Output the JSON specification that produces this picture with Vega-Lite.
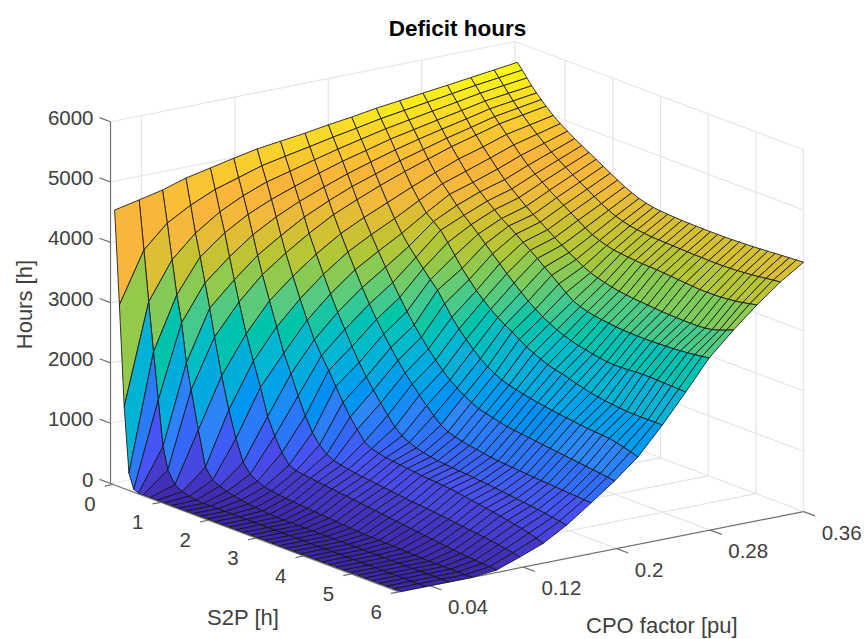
{"$schema":"https://vega.github.io/schema/vega-lite/v6.json","width":865,"height":639,"padding":0,"autosize":"none","background":"white","view":{"stroke":null},"title":{"text":"Deficit hours","font":"Liberation Sans","fontSize":22.5,"fontWeight":"bold","color":"#000000","anchor":"middle","dx":25,"offset":-40},
"datasets":{"surface":[
{"s":0,"c":0.36,"h":5670},{"s":0,"c":0.34,"h":5620},{"s":0,"c":0.32,"h":5570},{"s":0,"c":0.3,"h":5520},{"s":0,"c":0.279,"h":5470},{"s":0,"c":0.259,"h":5420},{"s":0,"c":0.239,"h":5373},{"s":0,"c":0.218,"h":5307},{"s":0,"c":0.198,"h":5255},{"s":0,"c":0.178,"h":5193},{"s":0,"c":0.157,"h":5141},{"s":0,"c":0.137,"h":5090},{"s":0,"c":0.117,"h":5012},{"s":0,"c":0.097,"h":4927},{"s":0,"c":0.076,"h":4840},{"s":0,"c":0.056,"h":4720},{"s":0,"c":0.036,"h":4632},{"s":0,"c":0.015,"h":4544},
{"s":0.1,"c":0.36,"h":5570},{"s":0.1,"c":0.34,"h":5520},{"s":0.1,"c":0.32,"h":5470},{"s":0.1,"c":0.3,"h":5410},{"s":0.1,"c":0.279,"h":5350},{"s":0.1,"c":0.259,"h":5290},{"s":0.1,"c":0.239,"h":5230},{"s":0.1,"c":0.218,"h":5150},{"s":0.1,"c":0.198,"h":5080},{"s":0.1,"c":0.178,"h":5000},{"s":0.1,"c":0.157,"h":4920},{"s":0.1,"c":0.137,"h":4840},{"s":0.1,"c":0.117,"h":4720},{"s":0.1,"c":0.097,"h":4600},{"s":0.1,"c":0.076,"h":4420},{"s":0.1,"c":0.056,"h":4200},{"s":0.1,"c":0.036,"h":3830},{"s":0.1,"c":0.015,"h":3000},
{"s":0.2,"c":0.36,"h":5470},{"s":0.2,"c":0.34,"h":5420},{"s":0.2,"c":0.32,"h":5370},{"s":0.2,"c":0.3,"h":5300},{"s":0.2,"c":0.279,"h":5230},{"s":0.2,"c":0.259,"h":5160},{"s":0.2,"c":0.239,"h":5090},{"s":0.2,"c":0.218,"h":5000},{"s":0.2,"c":0.198,"h":4910},{"s":0.2,"c":0.178,"h":4810},{"s":0.2,"c":0.157,"h":4700},{"s":0.2,"c":0.137,"h":4600},{"s":0.2,"c":0.117,"h":4450},{"s":0.2,"c":0.097,"h":4259},{"s":0.2,"c":0.076,"h":3985},{"s":0.2,"c":0.056,"h":3620},{"s":0.2,"c":0.036,"h":3000},{"s":0.2,"c":0.015,"h":1340},
{"s":0.3,"c":0.36,"h":5370},{"s":0.3,"c":0.34,"h":5320},{"s":0.3,"c":0.32,"h":5270},{"s":0.3,"c":0.3,"h":5190},{"s":0.3,"c":0.279,"h":5110},{"s":0.3,"c":0.259,"h":5030},{"s":0.3,"c":0.239,"h":4950},{"s":0.3,"c":0.218,"h":4840},{"s":0.3,"c":0.198,"h":4740},{"s":0.3,"c":0.178,"h":4620},{"s":0.3,"c":0.157,"h":4480},{"s":0.3,"c":0.137,"h":4340},{"s":0.3,"c":0.117,"h":4170},{"s":0.3,"c":0.097,"h":3940},{"s":0.3,"c":0.076,"h":3620},{"s":0.3,"c":0.056,"h":3070},{"s":0.3,"c":0.036,"h":2200},{"s":0.3,"c":0.015,"h":270},
{"s":0.4,"c":0.36,"h":5280},{"s":0.4,"c":0.34,"h":5225},{"s":0.4,"c":0.32,"h":5170},{"s":0.4,"c":0.3,"h":5080},{"s":0.4,"c":0.279,"h":4990},{"s":0.4,"c":0.259,"h":4900},{"s":0.4,"c":0.239,"h":4800},{"s":0.4,"c":0.218,"h":4680},{"s":0.4,"c":0.198,"h":4560},{"s":0.4,"c":0.178,"h":4420},{"s":0.4,"c":0.157,"h":4260},{"s":0.4,"c":0.137,"h":4080},{"s":0.4,"c":0.117,"h":3860},{"s":0.4,"c":0.097,"h":3570},{"s":0.4,"c":0.076,"h":3220},{"s":0.4,"c":0.056,"h":2634},{"s":0.4,"c":0.036,"h":1430},{"s":0.4,"c":0.015,"h":30},
{"s":0.5,"c":0.36,"h":5200},{"s":0.5,"c":0.34,"h":5135},{"s":0.5,"c":0.32,"h":5070},{"s":0.5,"c":0.3,"h":4970},{"s":0.5,"c":0.279,"h":4870},{"s":0.5,"c":0.259,"h":4760},{"s":0.5,"c":0.239,"h":4650},{"s":0.5,"c":0.218,"h":4510},{"s":0.5,"c":0.198,"h":4380},{"s":0.5,"c":0.178,"h":4220},{"s":0.5,"c":0.157,"h":4030},{"s":0.5,"c":0.137,"h":3800},{"s":0.5,"c":0.117,"h":3550},{"s":0.5,"c":0.097,"h":3220},{"s":0.5,"c":0.076,"h":2830},{"s":0.5,"c":0.056,"h":2000},{"s":0.5,"c":0.036,"h":690},{"s":0.5,"c":0.015,"h":0},
{"s":0.6,"c":0.36,"h":5120},{"s":0.6,"c":0.34,"h":5050},{"s":0.6,"c":0.32,"h":4980},{"s":0.6,"c":0.3,"h":4870},{"s":0.6,"c":0.279,"h":4760},{"s":0.6,"c":0.259,"h":4630},{"s":0.6,"c":0.239,"h":4500},{"s":0.6,"c":0.218,"h":4350},{"s":0.6,"c":0.198,"h":4190},{"s":0.6,"c":0.178,"h":4020},{"s":0.6,"c":0.157,"h":3790},{"s":0.6,"c":0.137,"h":3540},{"s":0.6,"c":0.117,"h":3260},{"s":0.6,"c":0.097,"h":2880},{"s":0.6,"c":0.076,"h":2380},{"s":0.6,"c":0.056,"h":1580},{"s":0.6,"c":0.036,"h":330},{"s":0.6,"c":0.015,"h":0},
{"s":0.75,"c":0.36,"h":5010},{"s":0.75,"c":0.34,"h":4930},{"s":0.75,"c":0.32,"h":4850},{"s":0.75,"c":0.3,"h":4720},{"s":0.75,"c":0.279,"h":4600},{"s":0.75,"c":0.259,"h":4450},{"s":0.75,"c":0.239,"h":4290},{"s":0.75,"c":0.218,"h":4110},{"s":0.75,"c":0.198,"h":3940},{"s":0.75,"c":0.178,"h":3750},{"s":0.75,"c":0.157,"h":3490},{"s":0.75,"c":0.137,"h":3200},{"s":0.75,"c":0.117,"h":2870},{"s":0.75,"c":0.097,"h":2400},{"s":0.75,"c":0.076,"h":1780},{"s":0.75,"c":0.056,"h":960},{"s":0.75,"c":0.036,"h":130},{"s":0.75,"c":0.015,"h":0},
{"s":0.9,"c":0.36,"h":4920},{"s":0.9,"c":0.34,"h":4820},{"s":0.9,"c":0.32,"h":4720},{"s":0.9,"c":0.3,"h":4580},{"s":0.9,"c":0.279,"h":4440},{"s":0.9,"c":0.259,"h":4310},{"s":0.9,"c":0.239,"h":4110},{"s":0.9,"c":0.218,"h":3890},{"s":0.9,"c":0.198,"h":3700},{"s":0.9,"c":0.178,"h":3490},{"s":0.9,"c":0.157,"h":3200},{"s":0.9,"c":0.137,"h":2870},{"s":0.9,"c":0.117,"h":2480},{"s":0.9,"c":0.097,"h":1990},{"s":0.9,"c":0.076,"h":1260},{"s":0.9,"c":0.056,"h":390},{"s":0.9,"c":0.036,"h":60},{"s":0.9,"c":0.015,"h":0},
{"s":1.05,"c":0.36,"h":4840},{"s":1.05,"c":0.34,"h":4715},{"s":1.05,"c":0.32,"h":4590},{"s":1.05,"c":0.3,"h":4440},{"s":1.05,"c":0.279,"h":4300},{"s":1.05,"c":0.259,"h":4180},{"s":1.05,"c":0.239,"h":3950},{"s":1.05,"c":0.218,"h":3690},{"s":1.05,"c":0.198,"h":3470},{"s":1.05,"c":0.178,"h":3240},{"s":1.05,"c":0.157,"h":2920},{"s":1.05,"c":0.137,"h":2560},{"s":1.05,"c":0.117,"h":2090},{"s":1.05,"c":0.097,"h":1600},{"s":1.05,"c":0.076,"h":830},{"s":1.05,"c":0.056,"h":220},{"s":1.05,"c":0.036,"h":30},{"s":1.05,"c":0.015,"h":0},
{"s":1.2,"c":0.36,"h":4760},{"s":1.2,"c":0.34,"h":4615},{"s":1.2,"c":0.32,"h":4470},{"s":1.2,"c":0.3,"h":4310},{"s":1.2,"c":0.279,"h":4190},{"s":1.2,"c":0.259,"h":4040},{"s":1.2,"c":0.239,"h":3850},{"s":1.2,"c":0.218,"h":3520},{"s":1.2,"c":0.198,"h":3250},{"s":1.2,"c":0.178,"h":2990},{"s":1.2,"c":0.157,"h":2660},{"s":1.2,"c":0.137,"h":2280},{"s":1.2,"c":0.117,"h":1790},{"s":1.2,"c":0.097,"h":1160},{"s":1.2,"c":0.076,"h":480},{"s":1.2,"c":0.056,"h":165},{"s":1.2,"c":0.036,"h":10},{"s":1.2,"c":0.015,"h":0},
{"s":1.35,"c":0.36,"h":4690},{"s":1.35,"c":0.34,"h":4530},{"s":1.35,"c":0.32,"h":4370},{"s":1.35,"c":0.3,"h":4200},{"s":1.35,"c":0.279,"h":4080},{"s":1.35,"c":0.259,"h":3920},{"s":1.35,"c":0.239,"h":3750},{"s":1.35,"c":0.218,"h":3380},{"s":1.35,"c":0.198,"h":3040},{"s":1.35,"c":0.178,"h":2760},{"s":1.35,"c":0.157,"h":2420},{"s":1.35,"c":0.137,"h":2060},{"s":1.35,"c":0.117,"h":1470},{"s":1.35,"c":0.097,"h":880},{"s":1.35,"c":0.076,"h":330},{"s":1.35,"c":0.056,"h":120},{"s":1.35,"c":0.036,"h":0},{"s":1.35,"c":0.015,"h":0},
{"s":1.5,"c":0.36,"h":4620},{"s":1.5,"c":0.34,"h":4450},{"s":1.5,"c":0.32,"h":4280},{"s":1.5,"c":0.3,"h":4100},{"s":1.5,"c":0.279,"h":3980},{"s":1.5,"c":0.259,"h":3810},{"s":1.5,"c":0.239,"h":3590},{"s":1.5,"c":0.218,"h":3240},{"s":1.5,"c":0.198,"h":2840},{"s":1.5,"c":0.178,"h":2550},{"s":1.5,"c":0.157,"h":2180},{"s":1.5,"c":0.137,"h":1860},{"s":1.5,"c":0.117,"h":1180},{"s":1.5,"c":0.097,"h":650},{"s":1.5,"c":0.076,"h":255},{"s":1.5,"c":0.056,"h":90},{"s":1.5,"c":0.036,"h":0},{"s":1.5,"c":0.015,"h":0},
{"s":1.65,"c":0.36,"h":4550},{"s":1.65,"c":0.34,"h":4370},{"s":1.65,"c":0.32,"h":4190},{"s":1.65,"c":0.3,"h":4000},{"s":1.65,"c":0.279,"h":3880},{"s":1.65,"c":0.259,"h":3700},{"s":1.65,"c":0.239,"h":3420},{"s":1.65,"c":0.218,"h":3100},{"s":1.65,"c":0.198,"h":2650},{"s":1.65,"c":0.178,"h":2350},{"s":1.65,"c":0.157,"h":1960},{"s":1.65,"c":0.137,"h":1640},{"s":1.65,"c":0.117,"h":950},{"s":1.65,"c":0.097,"h":490},{"s":1.65,"c":0.076,"h":210},{"s":1.65,"c":0.056,"h":65},{"s":1.65,"c":0.036,"h":0},{"s":1.65,"c":0.015,"h":0},
{"s":1.8,"c":0.36,"h":4480},{"s":1.8,"c":0.34,"h":4295},{"s":1.8,"c":0.32,"h":4110},{"s":1.8,"c":0.3,"h":3910},{"s":1.8,"c":0.279,"h":3800},{"s":1.8,"c":0.259,"h":3580},{"s":1.8,"c":0.239,"h":3250},{"s":1.8,"c":0.218,"h":2970},{"s":1.8,"c":0.198,"h":2470},{"s":1.8,"c":0.178,"h":2170},{"s":1.8,"c":0.157,"h":1765},{"s":1.8,"c":0.137,"h":1420},{"s":1.8,"c":0.117,"h":790},{"s":1.8,"c":0.097,"h":440},{"s":1.8,"c":0.076,"h":185},{"s":1.8,"c":0.056,"h":45},{"s":1.8,"c":0.036,"h":0},{"s":1.8,"c":0.015,"h":0},
{"s":1.95,"c":0.36,"h":4410},{"s":1.95,"c":0.34,"h":4220},{"s":1.95,"c":0.32,"h":4030},{"s":1.95,"c":0.3,"h":3830},{"s":1.95,"c":0.279,"h":3710},{"s":1.95,"c":0.259,"h":3460},{"s":1.95,"c":0.239,"h":3110},{"s":1.95,"c":0.218,"h":2790},{"s":1.95,"c":0.198,"h":2310},{"s":1.95,"c":0.178,"h":2000},{"s":1.95,"c":0.157,"h":1590},{"s":1.95,"c":0.137,"h":1220},{"s":1.95,"c":0.117,"h":680},{"s":1.95,"c":0.097,"h":420},{"s":1.95,"c":0.076,"h":165},{"s":1.95,"c":0.056,"h":30},{"s":1.95,"c":0.036,"h":0},{"s":1.95,"c":0.015,"h":0},
{"s":2.1,"c":0.36,"h":4340},{"s":2.1,"c":0.34,"h":4145},{"s":2.1,"c":0.32,"h":3950},{"s":2.1,"c":0.3,"h":3745},{"s":2.1,"c":0.279,"h":3620},{"s":2.1,"c":0.259,"h":3340},{"s":2.1,"c":0.239,"h":2970},{"s":2.1,"c":0.218,"h":2610},{"s":2.1,"c":0.198,"h":2160},{"s":2.1,"c":0.178,"h":1840},{"s":2.1,"c":0.157,"h":1420},{"s":2.1,"c":0.137,"h":1060},{"s":2.1,"c":0.117,"h":620},{"s":2.1,"c":0.097,"h":405},{"s":2.1,"c":0.076,"h":150},{"s":2.1,"c":0.056,"h":20},{"s":2.1,"c":0.036,"h":0},{"s":2.1,"c":0.015,"h":0},
{"s":2.25,"c":0.36,"h":4275},{"s":2.25,"c":0.34,"h":4070},{"s":2.25,"c":0.32,"h":3870},{"s":2.25,"c":0.3,"h":3660},{"s":2.25,"c":0.279,"h":3530},{"s":2.25,"c":0.259,"h":3220},{"s":2.25,"c":0.239,"h":2860},{"s":2.25,"c":0.218,"h":2460},{"s":2.25,"c":0.198,"h":2020},{"s":2.25,"c":0.178,"h":1700},{"s":2.25,"c":0.157,"h":1260},{"s":2.25,"c":0.137,"h":900},{"s":2.25,"c":0.117,"h":590},{"s":2.25,"c":0.097,"h":390},{"s":2.25,"c":0.076,"h":140},{"s":2.25,"c":0.056,"h":10},{"s":2.25,"c":0.036,"h":0},{"s":2.25,"c":0.015,"h":0},
{"s":2.4,"c":0.36,"h":4220},{"s":2.4,"c":0.34,"h":4005},{"s":2.4,"c":0.32,"h":3790},{"s":2.4,"c":0.3,"h":3580},{"s":2.4,"c":0.279,"h":3440},{"s":2.4,"c":0.259,"h":3110},{"s":2.4,"c":0.239,"h":2750},{"s":2.4,"c":0.218,"h":2330},{"s":2.4,"c":0.198,"h":1890},{"s":2.4,"c":0.178,"h":1560},{"s":2.4,"c":0.157,"h":1110},{"s":2.4,"c":0.137,"h":830},{"s":2.4,"c":0.117,"h":565},{"s":2.4,"c":0.097,"h":375},{"s":2.4,"c":0.076,"h":130},{"s":2.4,"c":0.056,"h":0},{"s":2.4,"c":0.036,"h":0},{"s":2.4,"c":0.015,"h":0},
{"s":2.55,"c":0.36,"h":4170},{"s":2.55,"c":0.34,"h":3950},{"s":2.55,"c":0.32,"h":3720},{"s":2.55,"c":0.3,"h":3500},{"s":2.55,"c":0.279,"h":3340},{"s":2.55,"c":0.259,"h":3000},{"s":2.55,"c":0.239,"h":2660},{"s":2.55,"c":0.218,"h":2210},{"s":2.55,"c":0.198,"h":1780},{"s":2.55,"c":0.178,"h":1430},{"s":2.55,"c":0.157,"h":1010},{"s":2.55,"c":0.137,"h":795},{"s":2.55,"c":0.117,"h":545},{"s":2.55,"c":0.097,"h":360},{"s":2.55,"c":0.076,"h":120},{"s":2.55,"c":0.056,"h":0},{"s":2.55,"c":0.036,"h":0},{"s":2.55,"c":0.015,"h":0},
{"s":2.7,"c":0.36,"h":4135},{"s":2.7,"c":0.34,"h":3910},{"s":2.7,"c":0.32,"h":3670},{"s":2.7,"c":0.3,"h":3430},{"s":2.7,"c":0.279,"h":3250},{"s":2.7,"c":0.259,"h":2900},{"s":2.7,"c":0.239,"h":2580},{"s":2.7,"c":0.218,"h":2100},{"s":2.7,"c":0.198,"h":1690},{"s":2.7,"c":0.178,"h":1310},{"s":2.7,"c":0.157,"h":945},{"s":2.7,"c":0.137,"h":770},{"s":2.7,"c":0.117,"h":530},{"s":2.7,"c":0.097,"h":345},{"s":2.7,"c":0.076,"h":110},{"s":2.7,"c":0.056,"h":0},{"s":2.7,"c":0.036,"h":0},{"s":2.7,"c":0.015,"h":0},
{"s":2.85,"c":0.36,"h":4110},{"s":2.85,"c":0.34,"h":3880},{"s":2.85,"c":0.32,"h":3630},{"s":2.85,"c":0.3,"h":3360},{"s":2.85,"c":0.279,"h":3150},{"s":2.85,"c":0.259,"h":2810},{"s":2.85,"c":0.239,"h":2510},{"s":2.85,"c":0.218,"h":2010},{"s":2.85,"c":0.198,"h":1610},{"s":2.85,"c":0.178,"h":1200},{"s":2.85,"c":0.157,"h":900},{"s":2.85,"c":0.137,"h":755},{"s":2.85,"c":0.117,"h":515},{"s":2.85,"c":0.097,"h":330},{"s":2.85,"c":0.076,"h":100},{"s":2.85,"c":0.056,"h":0},{"s":2.85,"c":0.036,"h":0},{"s":2.85,"c":0.015,"h":0},
{"s":3,"c":0.36,"h":4095},{"s":3,"c":0.34,"h":3860},{"s":3,"c":0.32,"h":3600},{"s":3,"c":0.3,"h":3300},{"s":3,"c":0.279,"h":3050},{"s":3,"c":0.259,"h":2730},{"s":3,"c":0.239,"h":2430},{"s":3,"c":0.218,"h":1940},{"s":3,"c":0.198,"h":1540},{"s":3,"c":0.178,"h":1130},{"s":3,"c":0.157,"h":865},{"s":3,"c":0.137,"h":740},{"s":3,"c":0.117,"h":500},{"s":3,"c":0.097,"h":315},{"s":3,"c":0.076,"h":90},{"s":3,"c":0.056,"h":0},{"s":3,"c":0.036,"h":0},{"s":3,"c":0.015,"h":0},
{"s":3.15,"c":0.36,"h":4085},{"s":3.15,"c":0.34,"h":3845},{"s":3.15,"c":0.32,"h":3585},{"s":3.15,"c":0.3,"h":3260},{"s":3.15,"c":0.279,"h":2960},{"s":3.15,"c":0.259,"h":2660},{"s":3.15,"c":0.239,"h":2350},{"s":3.15,"c":0.218,"h":1880},{"s":3.15,"c":0.198,"h":1480},{"s":3.15,"c":0.178,"h":1090},{"s":3.15,"c":0.157,"h":840},{"s":3.15,"c":0.137,"h":725},{"s":3.15,"c":0.117,"h":485},{"s":3.15,"c":0.097,"h":300},{"s":3.15,"c":0.076,"h":80},{"s":3.15,"c":0.056,"h":0},{"s":3.15,"c":0.036,"h":0},{"s":3.15,"c":0.015,"h":0},
{"s":3.3,"c":0.36,"h":4078},{"s":3.3,"c":0.34,"h":3830},{"s":3.3,"c":0.32,"h":3570},{"s":3.3,"c":0.3,"h":3225},{"s":3.3,"c":0.279,"h":2910},{"s":3.3,"c":0.259,"h":2600},{"s":3.3,"c":0.239,"h":2290},{"s":3.3,"c":0.218,"h":1840},{"s":3.3,"c":0.198,"h":1450},{"s":3.3,"c":0.178,"h":1060},{"s":3.3,"c":0.157,"h":820},{"s":3.3,"c":0.137,"h":710},{"s":3.3,"c":0.117,"h":470},{"s":3.3,"c":0.097,"h":285},{"s":3.3,"c":0.076,"h":70},{"s":3.3,"c":0.056,"h":0},{"s":3.3,"c":0.036,"h":0},{"s":3.3,"c":0.015,"h":0},
{"s":3.45,"c":0.36,"h":4072},{"s":3.45,"c":0.34,"h":3825},{"s":3.45,"c":0.32,"h":3560},{"s":3.45,"c":0.3,"h":3195},{"s":3.45,"c":0.279,"h":2870},{"s":3.45,"c":0.259,"h":2550},{"s":3.45,"c":0.239,"h":2235},{"s":3.45,"c":0.218,"h":1810},{"s":3.45,"c":0.198,"h":1420},{"s":3.45,"c":0.178,"h":1035},{"s":3.45,"c":0.157,"h":805},{"s":3.45,"c":0.137,"h":695},{"s":3.45,"c":0.117,"h":455},{"s":3.45,"c":0.097,"h":270},{"s":3.45,"c":0.076,"h":60},{"s":3.45,"c":0.056,"h":0},{"s":3.45,"c":0.036,"h":0},{"s":3.45,"c":0.015,"h":0},
{"s":3.6,"c":0.36,"h":4068},{"s":3.6,"c":0.34,"h":3820},{"s":3.6,"c":0.32,"h":3550},{"s":3.6,"c":0.3,"h":3170},{"s":3.6,"c":0.279,"h":2845},{"s":3.6,"c":0.259,"h":2510},{"s":3.6,"c":0.239,"h":2190},{"s":3.6,"c":0.218,"h":1780},{"s":3.6,"c":0.198,"h":1390},{"s":3.6,"c":0.178,"h":1015},{"s":3.6,"c":0.157,"h":795},{"s":3.6,"c":0.137,"h":685},{"s":3.6,"c":0.117,"h":440},{"s":3.6,"c":0.097,"h":255},{"s":3.6,"c":0.076,"h":50},{"s":3.6,"c":0.056,"h":0},{"s":3.6,"c":0.036,"h":0},{"s":3.6,"c":0.015,"h":0},
{"s":3.75,"c":0.36,"h":4065},{"s":3.75,"c":0.34,"h":3815},{"s":3.75,"c":0.32,"h":3545},{"s":3.75,"c":0.3,"h":3155},{"s":3.75,"c":0.279,"h":2825},{"s":3.75,"c":0.259,"h":2470},{"s":3.75,"c":0.239,"h":2150},{"s":3.75,"c":0.218,"h":1755},{"s":3.75,"c":0.198,"h":1360},{"s":3.75,"c":0.178,"h":995},{"s":3.75,"c":0.157,"h":785},{"s":3.75,"c":0.137,"h":675},{"s":3.75,"c":0.117,"h":425},{"s":3.75,"c":0.097,"h":240},{"s":3.75,"c":0.076,"h":45},{"s":3.75,"c":0.056,"h":0},{"s":3.75,"c":0.036,"h":0},{"s":3.75,"c":0.015,"h":0},
{"s":3.9,"c":0.36,"h":4063},{"s":3.9,"c":0.34,"h":3810},{"s":3.9,"c":0.32,"h":3540},{"s":3.9,"c":0.3,"h":3140},{"s":3.9,"c":0.279,"h":2810},{"s":3.9,"c":0.259,"h":2450},{"s":3.9,"c":0.239,"h":2125},{"s":3.9,"c":0.218,"h":1730},{"s":3.9,"c":0.198,"h":1345},{"s":3.9,"c":0.178,"h":975},{"s":3.9,"c":0.157,"h":775},{"s":3.9,"c":0.137,"h":665},{"s":3.9,"c":0.117,"h":415},{"s":3.9,"c":0.097,"h":225},{"s":3.9,"c":0.076,"h":40},{"s":3.9,"c":0.056,"h":0},{"s":3.9,"c":0.036,"h":0},{"s":3.9,"c":0.015,"h":0},
{"s":4.05,"c":0.36,"h":4063},{"s":4.05,"c":0.34,"h":3805},{"s":4.05,"c":0.32,"h":3530},{"s":4.05,"c":0.3,"h":3130},{"s":4.05,"c":0.279,"h":2795},{"s":4.05,"c":0.259,"h":2420},{"s":4.05,"c":0.239,"h":2090},{"s":4.05,"c":0.218,"h":1710},{"s":4.05,"c":0.198,"h":1330},{"s":4.05,"c":0.178,"h":960},{"s":4.05,"c":0.157,"h":765},{"s":4.05,"c":0.137,"h":655},{"s":4.05,"c":0.117,"h":405},{"s":4.05,"c":0.097,"h":210},{"s":4.05,"c":0.076,"h":35},{"s":4.05,"c":0.056,"h":0},{"s":4.05,"c":0.036,"h":0},{"s":4.05,"c":0.015,"h":0},
{"s":4.2,"c":0.36,"h":4063},{"s":4.2,"c":0.34,"h":3800},{"s":4.2,"c":0.32,"h":3520},{"s":4.2,"c":0.3,"h":3120},{"s":4.2,"c":0.279,"h":2785},{"s":4.2,"c":0.259,"h":2400},{"s":4.2,"c":0.239,"h":2050},{"s":4.2,"c":0.218,"h":1690},{"s":4.2,"c":0.198,"h":1315},{"s":4.2,"c":0.178,"h":950},{"s":4.2,"c":0.157,"h":750},{"s":4.2,"c":0.137,"h":635},{"s":4.2,"c":0.117,"h":390},{"s":4.2,"c":0.097,"h":195},{"s":4.2,"c":0.076,"h":30},{"s":4.2,"c":0.056,"h":0},{"s":4.2,"c":0.036,"h":0},{"s":4.2,"c":0.015,"h":0},
{"s":4.35,"c":0.36,"h":4063},{"s":4.35,"c":0.34,"h":3800},{"s":4.35,"c":0.32,"h":3510},{"s":4.35,"c":0.3,"h":3110},{"s":4.35,"c":0.279,"h":2780},{"s":4.35,"c":0.259,"h":2380},{"s":4.35,"c":0.239,"h":2020},{"s":4.35,"c":0.218,"h":1670},{"s":4.35,"c":0.198,"h":1300},{"s":4.35,"c":0.178,"h":940},{"s":4.35,"c":0.157,"h":740},{"s":4.35,"c":0.137,"h":615},{"s":4.35,"c":0.117,"h":375},{"s":4.35,"c":0.097,"h":180},{"s":4.35,"c":0.076,"h":25},{"s":4.35,"c":0.056,"h":0},{"s":4.35,"c":0.036,"h":0},{"s":4.35,"c":0.015,"h":0},
{"s":4.5,"c":0.36,"h":4065},{"s":4.5,"c":0.34,"h":3795},{"s":4.5,"c":0.32,"h":3500},{"s":4.5,"c":0.3,"h":3100},{"s":4.5,"c":0.279,"h":2775},{"s":4.5,"c":0.259,"h":2375},{"s":4.5,"c":0.239,"h":1985},{"s":4.5,"c":0.218,"h":1655},{"s":4.5,"c":0.198,"h":1285},{"s":4.5,"c":0.178,"h":930},{"s":4.5,"c":0.157,"h":725},{"s":4.5,"c":0.137,"h":595},{"s":4.5,"c":0.117,"h":360},{"s":4.5,"c":0.097,"h":165},{"s":4.5,"c":0.076,"h":20},{"s":4.5,"c":0.056,"h":0},{"s":4.5,"c":0.036,"h":0},{"s":4.5,"c":0.015,"h":0},
{"s":4.65,"c":0.36,"h":4070},{"s":4.65,"c":0.34,"h":3795},{"s":4.65,"c":0.32,"h":3490},{"s":4.65,"c":0.3,"h":3095},{"s":4.65,"c":0.279,"h":2775},{"s":4.65,"c":0.259,"h":2375},{"s":4.65,"c":0.239,"h":1965},{"s":4.65,"c":0.218,"h":1640},{"s":4.65,"c":0.198,"h":1270},{"s":4.65,"c":0.178,"h":920},{"s":4.65,"c":0.157,"h":710},{"s":4.65,"c":0.137,"h":575},{"s":4.65,"c":0.117,"h":345},{"s":4.65,"c":0.097,"h":150},{"s":4.65,"c":0.076,"h":15},{"s":4.65,"c":0.056,"h":0},{"s":4.65,"c":0.036,"h":0},{"s":4.65,"c":0.015,"h":0},
{"s":4.8,"c":0.36,"h":4075},{"s":4.8,"c":0.34,"h":3795},{"s":4.8,"c":0.32,"h":3480},{"s":4.8,"c":0.3,"h":3090},{"s":4.8,"c":0.279,"h":2775},{"s":4.8,"c":0.259,"h":2380},{"s":4.8,"c":0.239,"h":1945},{"s":4.8,"c":0.218,"h":1625},{"s":4.8,"c":0.198,"h":1255},{"s":4.8,"c":0.178,"h":910},{"s":4.8,"c":0.157,"h":695},{"s":4.8,"c":0.137,"h":555},{"s":4.8,"c":0.117,"h":330},{"s":4.8,"c":0.097,"h":135},{"s":4.8,"c":0.076,"h":10},{"s":4.8,"c":0.056,"h":0},{"s":4.8,"c":0.036,"h":0},{"s":4.8,"c":0.015,"h":0},
{"s":4.95,"c":0.36,"h":4080},{"s":4.95,"c":0.34,"h":3800},{"s":4.95,"c":0.32,"h":3480},{"s":4.95,"c":0.3,"h":3085},{"s":4.95,"c":0.279,"h":2780},{"s":4.95,"c":0.259,"h":2390},{"s":4.95,"c":0.239,"h":1930},{"s":4.95,"c":0.218,"h":1610},{"s":4.95,"c":0.198,"h":1240},{"s":4.95,"c":0.178,"h":900},{"s":4.95,"c":0.157,"h":680},{"s":4.95,"c":0.137,"h":535},{"s":4.95,"c":0.117,"h":315},{"s":4.95,"c":0.097,"h":120},{"s":4.95,"c":0.076,"h":5},{"s":4.95,"c":0.056,"h":0},{"s":4.95,"c":0.036,"h":0},{"s":4.95,"c":0.015,"h":0},
{"s":5.1,"c":0.36,"h":4088},{"s":5.1,"c":0.34,"h":3805},{"s":5.1,"c":0.32,"h":3480},{"s":5.1,"c":0.3,"h":3085},{"s":5.1,"c":0.279,"h":2785},{"s":5.1,"c":0.259,"h":2395},{"s":5.1,"c":0.239,"h":1915},{"s":5.1,"c":0.218,"h":1600},{"s":5.1,"c":0.198,"h":1225},{"s":5.1,"c":0.178,"h":895},{"s":5.1,"c":0.157,"h":665},{"s":5.1,"c":0.137,"h":515},{"s":5.1,"c":0.117,"h":300},{"s":5.1,"c":0.097,"h":105},{"s":5.1,"c":0.076,"h":0},{"s":5.1,"c":0.056,"h":0},{"s":5.1,"c":0.036,"h":0},{"s":5.1,"c":0.015,"h":0},
{"s":5.25,"c":0.36,"h":4096},{"s":5.25,"c":0.34,"h":3815},{"s":5.25,"c":0.32,"h":3485},{"s":5.25,"c":0.3,"h":3085},{"s":5.25,"c":0.279,"h":2790},{"s":5.25,"c":0.259,"h":2395},{"s":5.25,"c":0.239,"h":1905},{"s":5.25,"c":0.218,"h":1590},{"s":5.25,"c":0.198,"h":1210},{"s":5.25,"c":0.178,"h":885},{"s":5.25,"c":0.157,"h":650},{"s":5.25,"c":0.137,"h":490},{"s":5.25,"c":0.117,"h":285},{"s":5.25,"c":0.097,"h":90},{"s":5.25,"c":0.076,"h":0},{"s":5.25,"c":0.056,"h":0},{"s":5.25,"c":0.036,"h":0},{"s":5.25,"c":0.015,"h":0},
{"s":5.4,"c":0.36,"h":4105},{"s":5.4,"c":0.34,"h":3825},{"s":5.4,"c":0.32,"h":3495},{"s":5.4,"c":0.3,"h":3095},{"s":5.4,"c":0.279,"h":2800},{"s":5.4,"c":0.259,"h":2390},{"s":5.4,"c":0.239,"h":1900},{"s":5.4,"c":0.218,"h":1580},{"s":5.4,"c":0.198,"h":1195},{"s":5.4,"c":0.178,"h":875},{"s":5.4,"c":0.157,"h":635},{"s":5.4,"c":0.137,"h":465},{"s":5.4,"c":0.117,"h":270},{"s":5.4,"c":0.097,"h":80},{"s":5.4,"c":0.076,"h":0},{"s":5.4,"c":0.056,"h":0},{"s":5.4,"c":0.036,"h":0},{"s":5.4,"c":0.015,"h":0},
{"s":5.55,"c":0.36,"h":4112},{"s":5.55,"c":0.34,"h":3840},{"s":5.55,"c":0.32,"h":3510},{"s":5.55,"c":0.3,"h":3115},{"s":5.55,"c":0.279,"h":2810},{"s":5.55,"c":0.259,"h":2385},{"s":5.55,"c":0.239,"h":1900},{"s":5.55,"c":0.218,"h":1555},{"s":5.55,"c":0.198,"h":1180},{"s":5.55,"c":0.178,"h":865},{"s":5.55,"c":0.157,"h":615},{"s":5.55,"c":0.137,"h":440},{"s":5.55,"c":0.117,"h":250},{"s":5.55,"c":0.097,"h":70},{"s":5.55,"c":0.076,"h":0},{"s":5.55,"c":0.056,"h":0},{"s":5.55,"c":0.036,"h":0},{"s":5.55,"c":0.015,"h":0},
{"s":5.7,"c":0.36,"h":4120},{"s":5.7,"c":0.34,"h":3855},{"s":5.7,"c":0.32,"h":3530},{"s":5.7,"c":0.3,"h":3150},{"s":5.7,"c":0.279,"h":2825},{"s":5.7,"c":0.259,"h":2380},{"s":5.7,"c":0.239,"h":1900},{"s":5.7,"c":0.218,"h":1525},{"s":5.7,"c":0.198,"h":1165},{"s":5.7,"c":0.178,"h":860},{"s":5.7,"c":0.157,"h":595},{"s":5.7,"c":0.137,"h":410},{"s":5.7,"c":0.117,"h":230},{"s":5.7,"c":0.097,"h":60},{"s":5.7,"c":0.076,"h":0},{"s":5.7,"c":0.056,"h":0},{"s":5.7,"c":0.036,"h":0},{"s":5.7,"c":0.015,"h":0},
{"s":5.85,"c":0.36,"h":4128},{"s":5.85,"c":0.34,"h":3870},{"s":5.85,"c":0.32,"h":3555},{"s":5.85,"c":0.3,"h":3195},{"s":5.85,"c":0.279,"h":2840},{"s":5.85,"c":0.259,"h":2375},{"s":5.85,"c":0.239,"h":1900},{"s":5.85,"c":0.218,"h":1490},{"s":5.85,"c":0.198,"h":1150},{"s":5.85,"c":0.178,"h":850},{"s":5.85,"c":0.157,"h":575},{"s":5.85,"c":0.137,"h":370},{"s":5.85,"c":0.117,"h":205},{"s":5.85,"c":0.097,"h":50},{"s":5.85,"c":0.076,"h":0},{"s":5.85,"c":0.056,"h":0},{"s":5.85,"c":0.036,"h":0},{"s":5.85,"c":0.015,"h":0},
{"s":6,"c":0.36,"h":4135},{"s":6,"c":0.34,"h":3884},{"s":6,"c":0.32,"h":3580},{"s":6,"c":0.3,"h":3244},{"s":6,"c":0.279,"h":2857},{"s":6,"c":0.259,"h":2370},{"s":6,"c":0.239,"h":1900},{"s":6,"c":0.218,"h":1450},{"s":6,"c":0.198,"h":1130},{"s":6,"c":0.178,"h":845},{"s":6,"c":0.157,"h":555},{"s":6,"c":0.137,"h":330},{"s":6,"c":0.117,"h":180},{"s":6,"c":0.097,"h":40},{"s":6,"c":0.076,"h":0},{"s":6,"c":0.056,"h":0},{"s":6,"c":0.036,"h":0},{"s":6,"c":0.015,"h":0}
],
"grid":[
{"g":"z0","s":-0.05,"c":0.0135,"h":0},{"g":"z0","s":-0.05,"c":0.36,"h":0},{"g":"z0","s":6,"c":0.36,"h":0},
{"g":"z1","s":-0.05,"c":0.0135,"h":1000},{"g":"z1","s":-0.05,"c":0.36,"h":1000},{"g":"z1","s":6,"c":0.36,"h":1000},
{"g":"z2","s":-0.05,"c":0.0135,"h":2000},{"g":"z2","s":-0.05,"c":0.36,"h":2000},{"g":"z2","s":6,"c":0.36,"h":2000},
{"g":"z3","s":-0.05,"c":0.0135,"h":3000},{"g":"z3","s":-0.05,"c":0.36,"h":3000},{"g":"z3","s":6,"c":0.36,"h":3000},
{"g":"z4","s":-0.05,"c":0.0135,"h":4000},{"g":"z4","s":-0.05,"c":0.36,"h":4000},{"g":"z4","s":6,"c":0.36,"h":4000},
{"g":"z5","s":-0.05,"c":0.0135,"h":5000},{"g":"z5","s":-0.05,"c":0.36,"h":5000},{"g":"z5","s":6,"c":0.36,"h":5000},
{"g":"z6","s":-0.05,"c":0.0135,"h":6000},{"g":"z6","s":-0.05,"c":0.36,"h":6000},{"g":"z6","s":6,"c":0.36,"h":6000},
{"g":"v1","s":-0.05,"c":0.04,"h":0},{"g":"v1","s":-0.05,"c":0.04,"h":6000},
{"g":"v2","s":-0.05,"c":0.12,"h":0},{"g":"v2","s":-0.05,"c":0.12,"h":6000},
{"g":"v3","s":-0.05,"c":0.2,"h":0},{"g":"v3","s":-0.05,"c":0.2,"h":6000},
{"g":"v4","s":-0.05,"c":0.28,"h":0},{"g":"v4","s":-0.05,"c":0.28,"h":6000},
{"g":"v5","s":-0.05,"c":0.36,"h":0},{"g":"v5","s":-0.05,"c":0.36,"h":6000},
{"g":"w1","s":1,"c":0.36,"h":0},{"g":"w1","s":1,"c":0.36,"h":6000},
{"g":"w2","s":2,"c":0.36,"h":0},{"g":"w2","s":2,"c":0.36,"h":6000},
{"g":"w3","s":3,"c":0.36,"h":0},{"g":"w3","s":3,"c":0.36,"h":6000},
{"g":"w4","s":4,"c":0.36,"h":0},{"g":"w4","s":4,"c":0.36,"h":6000},
{"g":"w5","s":5,"c":0.36,"h":0},{"g":"w5","s":5,"c":0.36,"h":6000},
{"g":"w6","s":6,"c":0.36,"h":0},{"g":"w6","s":6,"c":0.36,"h":6000},
{"g":"f1","s":-0.05,"c":0.04,"h":0},{"g":"f1","s":6,"c":0.04,"h":0},
{"g":"f2","s":-0.05,"c":0.12,"h":0},{"g":"f2","s":6,"c":0.12,"h":0},
{"g":"f3","s":-0.05,"c":0.2,"h":0},{"g":"f3","s":6,"c":0.2,"h":0},
{"g":"f4","s":-0.05,"c":0.28,"h":0},{"g":"f4","s":6,"c":0.28,"h":0},
{"g":"e1","s":1,"c":0.0135,"h":0},{"g":"e1","s":1,"c":0.36,"h":0},
{"g":"e2","s":2,"c":0.0135,"h":0},{"g":"e2","s":2,"c":0.36,"h":0},
{"g":"e3","s":3,"c":0.0135,"h":0},{"g":"e3","s":3,"c":0.36,"h":0},
{"g":"e4","s":4,"c":0.0135,"h":0},{"g":"e4","s":4,"c":0.36,"h":0},
{"g":"e5","s":5,"c":0.0135,"h":0},{"g":"e5","s":5,"c":0.36,"h":0}
],
"axes":[
{"g":"za","s":-0.05,"c":0.0135,"h":0},{"g":"za","s":-0.05,"c":0.0135,"h":6000},
{"g":"sa","s":-0.05,"c":0.0135,"h":0},{"g":"sa","s":6,"c":0.0135,"h":0},
{"g":"ca","s":6,"c":0.0135,"h":0},{"g":"ca","s":6,"c":0.36,"h":0},
{"g":"t0","s":-0.05,"c":0.0135,"h":0},{"g":"t0","s":-0.28,"c":0.0135,"h":0},
{"g":"t1","s":-0.05,"c":0.0135,"h":1000},{"g":"t1","s":-0.28,"c":0.0135,"h":1000},
{"g":"t2","s":-0.05,"c":0.0135,"h":2000},{"g":"t2","s":-0.28,"c":0.0135,"h":2000},
{"g":"t3","s":-0.05,"c":0.0135,"h":3000},{"g":"t3","s":-0.28,"c":0.0135,"h":3000},
{"g":"t4","s":-0.05,"c":0.0135,"h":4000},{"g":"t4","s":-0.28,"c":0.0135,"h":4000},
{"g":"t5","s":-0.05,"c":0.0135,"h":5000},{"g":"t5","s":-0.28,"c":0.0135,"h":5000},
{"g":"t6","s":-0.05,"c":0.0135,"h":6000},{"g":"t6","s":-0.28,"c":0.0135,"h":6000},
{"g":"s0","s":0,"c":0.0135,"h":0},{"g":"s0","s":0,"c":0.0065,"h":0},
{"g":"s1","s":1,"c":0.0135,"h":0},{"g":"s1","s":1,"c":0.0065,"h":0},
{"g":"s2","s":2,"c":0.0135,"h":0},{"g":"s2","s":2,"c":0.0065,"h":0},
{"g":"s3","s":3,"c":0.0135,"h":0},{"g":"s3","s":3,"c":0.0065,"h":0},
{"g":"s4","s":4,"c":0.0135,"h":0},{"g":"s4","s":4,"c":0.0065,"h":0},
{"g":"s5","s":5,"c":0.0135,"h":0},{"g":"s5","s":5,"c":0.0065,"h":0},
{"g":"s6","s":6,"c":0.0135,"h":0},{"g":"s6","s":6,"c":0.0065,"h":0},
{"g":"c1","s":6,"c":0.04,"h":0},{"g":"c1","s":6.24,"c":0.04,"h":0},
{"g":"c2","s":6,"c":0.12,"h":0},{"g":"c2","s":6.24,"c":0.12,"h":0},
{"g":"c3","s":6,"c":0.2,"h":0},{"g":"c3","s":6.24,"c":0.2,"h":0},
{"g":"c4","s":6,"c":0.28,"h":0},{"g":"c4","s":6.24,"c":0.28,"h":0},
{"g":"c5","s":6,"c":0.36,"h":0},{"g":"c5","s":6.24,"c":0.36,"h":0}
]},
"encoding":{"x":{"field":"px","type":"quantitative","scale":{"domain":[0,865],"nice":false,"zero":false},"axis":null},"y":{"field":"py","type":"quantitative","scale":{"domain":[639,0],"nice":false,"zero":false},"axis":null}},
"layer":[
{"data":{"name":"grid"},"transform":[{"calculate":"115+47.7*datum.s+(datum.c-0.0153)*1167.5","as":"px"},{"calculate":"484+17.9*datum.s-(datum.c-0.0153)*231.5-0.0603*datum.h","as":"py"}],"mark":{"type":"line","stroke":"#e4e4e4","strokeWidth":1.2},"encoding":{"detail":{"field":"g"}}},
{"data":{"name":"axes"},"transform":[{"calculate":"115+47.7*datum.s+(datum.c-0.0153)*1167.5","as":"px"},{"calculate":"484+17.9*datum.s-(datum.c-0.0153)*231.5-0.0603*datum.h","as":"py"}],"mark":{"type":"line","stroke":"#707070","strokeWidth":1.2},"encoding":{"detail":{"field":"g"}}},
{"data":{"name":"surface"},"transform":[
{"window":[{"op":"dense_rank","as":"i"}],"sort":[{"field":"s"}]},
{"window":[{"op":"dense_rank","as":"k"}],"sort":[{"field":"c"}]},
{"calculate":"[0,1,2,3]","as":"corner"},{"flatten":["corner"]},
{"calculate":"datum.i-((datum.corner==1||datum.corner==2)?1:0)","as":"ci"},
{"calculate":"datum.k-((datum.corner==2||datum.corner==3)?1:0)","as":"ck"},
{"filter":"datum.ci>=1&&datum.ck>=1&&datum.ci<43&&datum.ck<18"},
{"calculate":"datum.ci*100+datum.ck","as":"cell"},
{"calculate":"(datum.corner==0||datum.corner==3)?datum.h:null","as":"h0"},
{"joinaggregate":[{"op":"mean","field":"h0","as":"first"}],"groupby":["cell"]},
{"calculate":"115+47.7*datum.s+(datum.c-0.0153)*1167.5","as":"px"},{"calculate":"484+17.9*datum.s-(datum.c-0.0153)*231.5-0.0603*datum.h","as":"py"}],
"mark":{"type":"line","interpolate":"linear-closed","stroke":"#141414","strokeWidth":0.85,"strokeJoin":"round"},
"encoding":{"detail":{"field":"cell"},"order":{"field":"corner"},"fill":{"field":"first","type":"quantitative","legend":null,"scale":{"domain":[0,708,1417,2126,2835,3544,4252,4650,5100,5670],"range":["#3e26a8","#4852f4","#2e87f7","#12b1d6","#37c897","#abc739","#f2b93c","#f9b53a","#f8d02c","#f9fb0e"]}}}},
{"data":{"values":[{"t":"0","h":0},{"t":"1000","h":1000},{"t":"2000","h":2000},{"t":"3000","h":3000},{"t":"4000","h":4000},{"t":"5000","h":5000},{"t":"6000","h":6000}]},"transform":[{"calculate":"115+47.7*(-0.05)+(0.0135-0.0153)*1167.5","as":"px"},{"calculate":"484+17.9*(-0.05)-(0.0135-0.0153)*231.5-0.0603*datum.h","as":"py"}],"mark":{"type":"text","font":"Liberation Sans","fontSize":20.5,"color":"#404040","align":"right","baseline":"middle","dx":-17,"dy":-3},"encoding":{"text":{"field":"t"}}},
{"data":{"values":[{"t":"0","s":0},{"t":"1","s":1},{"t":"2","s":2},{"t":"3","s":3},{"t":"4","s":4},{"t":"5","s":5},{"t":"6","s":6}]},"transform":[{"calculate":"115+47.7*datum.s+(0.0135-0.0153)*1167.5","as":"px"},{"calculate":"484+17.9*datum.s-(0.0135-0.0153)*231.5","as":"py"}],"mark":{"type":"text","font":"Liberation Sans","fontSize":20.5,"color":"#404040","align":"center","baseline":"middle","dx":-23,"dy":21},"encoding":{"text":{"field":"t"}}},
{"data":{"values":[{"t":"0.04","c":0.04},{"t":"0.12","c":0.12},{"t":"0.2","c":0.2},{"t":"0.28","c":0.28},{"t":"0.36","c":0.36}]},"transform":[{"calculate":"115+47.7*6+(datum.c-0.0153)*1167.5","as":"px"},{"calculate":"484+17.9*6-(datum.c-0.0153)*231.5","as":"py"}],"mark":{"type":"text","font":"Liberation Sans","fontSize":20.5,"color":"#404040","align":"left","baseline":"middle","dx":18,"dy":22},"encoding":{"text":{"field":"t"}}},
{"data":{"values":[{"t":"S2P [h]","s":3,"c":0.0135}]},"transform":[{"calculate":"115+47.7*datum.s+(datum.c-0.0153)*1167.5","as":"px"},{"calculate":"484+17.9*datum.s-(datum.c-0.0153)*231.5","as":"py"}],"mark":{"type":"text","font":"Liberation Sans","fontSize":22,"color":"#404040","align":"center","baseline":"middle","dx":-13,"dy":80},"encoding":{"text":{"field":"t"}}},
{"data":{"values":[{"t":"CPO factor [pu]","s":6,"c":0.2}]},"transform":[{"calculate":"115+47.7*datum.s+(datum.c-0.0153)*1167.5","as":"px"},{"calculate":"484+17.9*datum.s-(datum.c-0.0153)*231.5","as":"py"}],"mark":{"type":"text","font":"Liberation Sans","fontSize":22,"color":"#404040","align":"center","baseline":"middle","dx":45,"dy":77},"encoding":{"text":{"field":"t"}}},
{"data":{"values":[{"t":"Hours [h]","h":3000}]},"transform":[{"calculate":"115+47.7*(-0.05)+(0.0135-0.0153)*1167.5","as":"px"},{"calculate":"484+17.9*(-0.05)-(0.0135-0.0153)*231.5-0.0603*datum.h","as":"py"}],"mark":{"type":"text","font":"Liberation Sans","fontSize":22,"color":"#404040","align":"center","baseline":"middle","angle":270,"dx":-2,"dy":-86},"encoding":{"text":{"field":"t"}}}
]}
